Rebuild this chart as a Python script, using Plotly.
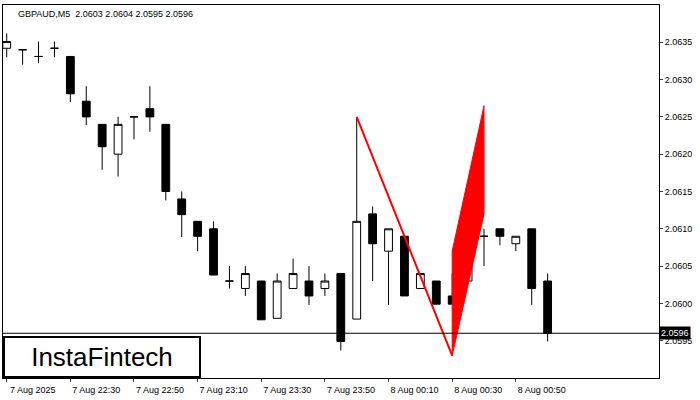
import plotly.graph_objects as go
import pandas as pd

# Candle data (M5)
times = pd.date_range('2025-08-07 22:10', periods=35, freq='5min')
opens = [2.06342, 2.0634, 2.06331, 2.06342, 2.06331, 2.06271, 2.0624, 2.0620, 2.0625, 2.06261,
         2.0624, 2.0614, 2.0611, 2.0610, 2.0603, 2.0602, 2.0603, 2.0598, 2.0602, 2.0603,
         2.0602, 2.0604, 2.05979, 2.0612, 2.0607, 2.0609, 2.0602, 2.0603, 2.0601, 2.0603,
         2.0609, 2.0610, 2.0608, 2.0610, 2.0603]
highs = [2.06362, 2.0634, 2.06351, 2.06351, 2.06331, 2.06291, 2.0624, 2.0625, 2.0625, 2.06291,
         2.0624, 2.0615, 2.0611, 2.0611, 2.0605, 2.0605, 2.0603, 2.0604, 2.0606, 2.0605,
         2.0604, 2.0604, 2.0625, 2.0613, 2.0610, 2.0609, 2.0604, 2.0603, 2.0604, 2.0610,
         2.0610, 2.0610, 2.0609, 2.0610, 2.0604]
lows = [2.0633, 2.0632, 2.06322, 2.0633, 2.0627, 2.06239, 2.06179, 2.0617, 2.0622, 2.0623,
        2.06138, 2.06089, 2.0607, 2.06038, 2.0602, 2.0601, 2.05978, 2.0598, 2.0602, 2.05998,
        2.0601, 2.05937, 2.05979, 2.0603, 2.05998, 2.0601, 2.0602, 2.05999, 2.05999, 2.0603,
        2.0605, 2.06078, 2.0607, 2.05998, 2.05949]
closes = [2.06351, 2.0634, 2.06331, 2.06342, 2.06281, 2.0625, 2.0621, 2.0624, 2.0625, 2.0625,
          2.0615, 2.06119, 2.0609, 2.06038, 2.0603, 2.0604, 2.05978, 2.0603, 2.0604, 2.0601,
          2.0603, 2.05949, 2.0611, 2.0608, 2.0610, 2.0601, 2.0604, 2.05999, 2.05999, 2.0610,
          2.0609, 2.0609, 2.0609, 2.0602, 2.0596]

# Pattern (bearish flag) points
pole_x = ['2025-08-08 00:00', '2025-08-08 00:30']
pole_y = [2.0625, 2.0593]
flag_x = ['2025-08-08 00:30', '2025-08-08 00:30', '2025-08-08 00:40', '2025-08-08 00:40', '2025-08-08 00:30']
flag_y = [2.0593, 2.0607, 2.06265, 2.0612, 2.0593]

last_price = 2.0596

tick_vals = list(pd.date_range('2025-08-07 22:10', periods=7, freq='20min')) + \
    list(pd.date_range('2025-08-08 00:30', periods=2, freq='20min'))
tick_text = ['7 Aug 2025', '7 Aug 22:30', '7 Aug 22:50', '7 Aug 23:10',
             '7 Aug 23:30', '7 Aug 23:50', '8 Aug 00:10', '8 Aug 00:30', '8 Aug 00:50']

y_ticks = [2.0595, 2.0600, 2.0605, 2.0610, 2.0615, 2.0620, 2.0625, 2.0630, 2.0635]

fig = go.Figure()

# Flag body first, candles on top of it, pole line last
fig.add_trace(go.Scatter(x=flag_x, y=flag_y, mode='lines', fill='toself',
                         fillcolor='red', line=dict(color='red', width=1),
                         showlegend=False, hoverinfo='skip'))

fig.add_trace(go.Candlestick(
    x=times, open=opens, high=highs, low=lows, close=closes,
    increasing=dict(fillcolor='white', line=dict(color='black', width=1)),
    decreasing=dict(fillcolor='black', line=dict(color='black', width=1)),
    whiskerwidth=0, showlegend=False, hoverinfo='skip'
))

fig.add_trace(go.Scatter(x=pole_x, y=pole_y, mode='lines',
                         line=dict(color='red', width=2),
                         showlegend=False, hoverinfo='skip'))

fig.add_hline(y=last_price, line=dict(color='black', width=1))

fig.update_layout(
    width=700, height=400,
    xaxis=dict(
        range=['2025-08-07 22:08:50', '2025-08-08 01:35:00'],
        rangeslider=dict(visible=False), automargin=False,
        tickvals=tick_vals, ticktext=tick_text, ticklabelshift=26,
        showgrid=False, showline=True, linecolor='black', mirror=True,
        ticks='outside', ticklen=3, tickfont=dict(size=9, color='black'),
        tickangle=0
    ),
    yaxis=dict(
        side='right', range=[2.0590, 2.0640], automargin=False,
        tickvals=y_ticks, tickformat='.4f',
        showgrid=False, showline=True, linecolor='black', mirror=True,
        ticks='outside', ticklen=3, tickfont=dict(size=9, color='black')
    ),
    annotations=[
        dict(xref='paper', yref='paper', x=0.02, y=0.995, xanchor='left', yanchor='top',
             text='GBPAUD,M5  2.0603 2.0604 2.0595 2.0596', showarrow=False,
             font=dict(size=9, color='black')),
        dict(xref='paper', yref='y', x=1.0, y=last_price, xanchor='left', yanchor='middle',
             text='2.0596', showarrow=False, bgcolor='black',
             font=dict(size=9, color='white'), borderpad=1),
        dict(xref='paper', yref='paper', x=0.0, y=0.0, xanchor='left', yanchor='bottom',
             text='InstaFintech', showarrow=False, bgcolor='white',
             bordercolor='black', borderwidth=2, borderpad=4, width=186,
             font=dict(size=26, color='black', family='Arial'))
    ],
    plot_bgcolor='white', paper_bgcolor='white',
    font=dict(family='Liberation Sans', size=9, color='black'),
    margin=dict(l=3, r=41, t=5, b=22, autoexpand=False),
    template=None
)

fig.write_html('out.html', config=dict(displayModeBar=False),
               post_script="document.body.style.margin='0px';")
